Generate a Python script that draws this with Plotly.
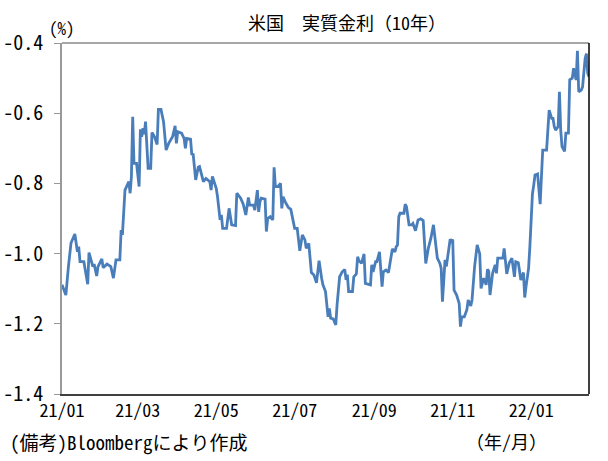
import plotly.graph_objects as go

# US real interest rate (10Y), %
dates = [
    "2021-01-01", "2021-01-04", "2021-01-06", "2021-01-08", "2021-01-11", "2021-01-13", "2021-01-14",
    "2021-01-15", "2021-01-18", "2021-01-21", "2021-01-22", "2021-01-25", "2021-01-26", "2021-01-28",
    "2021-01-29", "2021-02-01", "2021-02-02", "2021-02-05", "2021-02-08", "2021-02-10", "2021-02-12",
    "2021-02-15", "2021-02-16", "2021-02-17", "2021-02-19", "2021-02-21", "2021-02-22", "2021-02-23",
    "2021-02-24", "2021-02-25", "2021-02-26", "2021-02-28", "2021-03-02", "2021-03-03", "2021-03-04",
    "2021-03-05", "2021-03-06", "2021-03-07", "2021-03-09", "2021-03-11", "2021-03-12", "2021-03-14",
    "2021-03-16", "2021-03-17", "2021-03-19", "2021-03-21", "2021-03-23", "2021-03-25", "2021-03-28",
    "2021-03-30", "2021-03-31", "2021-04-01", "2021-04-04", "2021-04-06", "2021-04-07", "2021-04-08",
    "2021-04-11", "2021-04-12", "2021-04-13", "2021-04-15", "2021-04-17",
    "2021-04-18", "2021-04-21", "2021-04-23", "2021-04-26", "2021-04-27", "2021-04-28", "2021-05-01",
    "2021-05-02", "2021-05-04", "2021-05-05", "2021-05-06", "2021-05-09", "2021-05-11", "2021-05-13",
    "2021-05-16", "2021-05-17", "2021-05-20", "2021-05-22", "2021-05-24", "2021-05-26", "2021-05-27",
    "2021-05-30", "2021-05-31", "2021-06-02", "2021-06-03", "2021-06-04", "2021-06-05", "2021-06-08",
    "2021-06-09", "2021-06-10", "2021-06-12", "2021-06-14", "2021-06-15", "2021-06-16", "2021-06-18",
    "2021-06-20", "2021-06-21", "2021-06-22", "2021-06-24", "2021-06-26", "2021-06-28", "2021-07-01",
    "2021-07-03", "2021-07-05", "2021-07-07", "2021-07-09", "2021-07-10", "2021-07-12", "2021-07-14",
    "2021-07-16", "2021-07-18", "2021-07-20", "2021-07-22", "2021-07-23", "2021-07-25", "2021-07-27",
    "2021-07-28", "2021-07-29", "2021-07-31", "2021-08-02", "2021-08-03", "2021-08-05", "2021-08-07",
    "2021-08-09", "2021-08-10", "2021-08-11", "2021-08-12", "2021-08-15", "2021-08-16", "2021-08-18",
    "2021-08-19", "2021-08-20", "2021-08-22", "2021-08-24", "2021-08-25", "2021-08-29", "2021-08-30",
    "2021-08-31", "2021-09-02", "2021-09-03", "2021-09-05",
    "2021-09-07", "2021-09-08", "2021-09-10", "2021-09-12", "2021-09-15", "2021-09-17", "2021-09-18",
    "2021-09-19", "2021-09-20", "2021-09-21", "2021-09-24", "2021-09-25", "2021-09-26", "2021-09-28",
    "2021-09-30", "2021-10-01", "2021-10-03", "2021-10-05", "2021-10-07", "2021-10-09", "2021-10-10",
    "2021-10-11", "2021-10-13", "2021-10-15", "2021-10-17", "2021-10-18", "2021-10-20", "2021-10-22",
    "2021-10-23", "2021-10-24", "2021-10-26", "2021-10-27", "2021-10-30", "2021-10-31", "2021-11-01",
    "2021-11-02", "2021-11-04", "2021-11-06", "2021-11-07", "2021-11-08", "2021-11-10", "2021-11-11",
    "2021-11-12", "2021-11-13", "2021-11-15", "2021-11-16", "2021-11-18", "2021-11-20", "2021-11-22",
    "2021-11-23", "2021-11-25", "2021-11-27", "2021-11-28", "2021-11-29", "2021-11-30", "2021-12-02",
    "2021-12-04", "2021-12-05", "2021-12-06", "2021-12-08", "2021-12-10", "2021-12-11", "2021-12-13",
    "2021-12-15", "2021-12-17", "2021-12-19", "2021-12-20", "2021-12-22", "2021-12-23", "2021-12-24",
    "2021-12-26", "2021-12-27", "2021-12-28", "2021-12-30", "2021-12-31",
    "2022-01-01", "2022-01-02", "2022-01-03", "2022-01-04", "2022-01-06", "2022-01-08", "2022-01-09",
    "2022-01-10", "2022-01-13", "2022-01-14", "2022-01-15", "2022-01-17", "2022-01-18", "2022-01-19",
    "2022-01-20", "2022-01-22", "2022-01-23", "2022-01-24", "2022-01-25", "2022-01-27", "2022-01-28",
    "2022-01-30", "2022-01-31", "2022-02-02", "2022-02-03", "2022-02-05", "2022-02-06", "2022-02-07",
    "2022-02-09", "2022-02-10", "2022-02-12", "2022-02-13", "2022-02-14", "2022-02-15",
]
real_rate = [
    -1.089, -1.118, -1.037, -0.970, -0.944, -0.995, -0.980,
    -1.023, -1.023, -1.087, -0.997, -1.037, -1.030, -1.064,
    -1.037, -1.015, -1.040, -1.030, -1.037, -1.070, -1.018,
    -1.018, -0.933, -0.947, -0.819, -0.805, -0.795, -0.828,
    -0.781, -0.610, -0.743, -0.743, -0.809, -0.646, -0.667,
    -0.643, -0.660, -0.624, -0.757, -0.757, -0.655, -0.667,
    -0.689, -0.589, -0.589, -0.624, -0.705, -0.686, -0.667,
    -0.636, -0.686, -0.653, -0.657, -0.672, -0.700, -0.672,
    -0.674, -0.719, -0.715, -0.790, -0.754,
    -0.752, -0.795, -0.786, -0.795, -0.819, -0.780, -0.814,
    -0.838, -0.904, -0.890, -0.928, -0.928, -0.871, -0.918,
    -0.920, -0.828, -0.842, -0.859, -0.890, -0.840, -0.862,
    -0.862, -0.876, -0.819, -0.881, -0.852, -0.842, -0.845,
    -0.937, -0.900, -0.895, -0.904, -0.754, -0.809, -0.809,
    -0.800, -0.871, -0.838, -0.855, -0.868, -0.874, -0.928,
    -0.928, -0.992, -0.947, -0.961, -0.985, -0.971, -1.054,
    -1.061, -1.083, -1.020, -1.070, -1.089, -1.108, -1.180,
    -1.156, -1.184, -1.186, -1.203, -1.146, -1.066, -1.052,
    -1.045, -1.075, -1.060, -1.108, -1.108, -1.066, -1.058,
    -1.009, -1.020, -1.028, -1.001, -1.085, -1.089, -1.032,
    -1.052, -1.023, -1.023, -0.995,
    -1.094, -1.052, -1.047, -1.054, -0.987, -0.995, -0.980,
    -0.976, -0.895, -0.885, -0.885, -0.859, -0.866, -0.918,
    -0.918, -0.914, -0.935, -0.904, -0.901, -0.906, -0.971,
    -1.028, -0.985, -0.956, -0.918, -0.947, -1.013, -1.028,
    -1.042, -1.137, -1.018, -1.037, -0.959, -0.965, -0.960,
    -1.104, -1.118, -1.142, -1.208, -1.180, -1.180, -1.170,
    -1.160, -1.132, -1.149, -1.132, -1.037, -0.975, -1.001,
    -1.099, -1.070, -1.089, -1.045, -1.050, -1.118, -1.056,
    -1.032, -1.056, -1.013, -1.013, -1.013, -0.985, -1.058,
    -1.026, -1.013, -1.066, -1.023, -1.026, -1.052, -1.075,
    -1.054, -1.125, -1.094, -1.042, -0.980,
    -0.900, -0.830, -0.805, -0.776, -0.773, -0.859, -0.781,
    -0.705, -0.705, -0.648, -0.591, -0.615, -0.615, -0.638,
    -0.648, -0.638, -0.539, -0.648, -0.695, -0.709, -0.657,
    -0.657, -0.505, -0.500, -0.472, -0.505, -0.422, -0.539,
    -0.534, -0.525, -0.444, -0.430, -0.486, -0.496,
]

x_tick_vals = ["2021-01-01", "2021-03-01", "2021-05-01", "2021-07-01", "2021-09-01", "2021-11-01", "2022-01-01"]
x_tick_text = ["21/01", "21/03", "21/05", "21/07", "21/09", "21/11", "22/01"]
y_tick_vals = [-1.4, -1.2, -1.0, -0.8, -0.6, -0.4]
y_tick_text = ["-1.4", "-1.2", "-1.0", "-0.8", "-0.6", "-0.4"]

FONT = "Noto Sans Mono CJK JP, Noto Sans CJK JP, sans-serif"

fig = go.Figure()
fig.add_trace(go.Scatter(
    x=dates, y=real_rate, mode="lines",
    line=dict(color="#4A7EBB", width=2.8),
    showlegend=False, hoverinfo="skip",
))

fig.update_layout(
    width=608, height=461,
    margin=dict(l=62, r=19, t=43, b=67, autoexpand=False),
    paper_bgcolor="white", plot_bgcolor="white",
    font=dict(family=FONT, color="black", size=18),
    xaxis=dict(
        type="date", automargin=False,
        range=["2021-01-01", "2022-02-15"],
        tickvals=x_tick_vals, ticktext=x_tick_text,
        showgrid=False, zeroline=False,
        showline=True, linecolor="#404040", linewidth=1.5,
        ticks="", tickfont=dict(size=18, family=FONT),
    ),
    yaxis=dict(
        automargin=False,
        range=[-1.4, -0.4],
        tickvals=y_tick_vals, ticktext=y_tick_text,
        showgrid=False, zeroline=False,
        showline=True, linecolor="#999999", linewidth=1.5,
        ticks="outside", ticklen=6, tickcolor="#999999", tickwidth=1,
        ticklabelstandoff=7,
        tickfont=dict(size=20, family=FONT),
    ),
    shapes=[
        dict(type="line", xref="paper", yref="paper", x0=0, x1=1, y0=1, y1=1,
             line=dict(color="#888888", width=1.5)),
        dict(type="line", xref="paper", yref="paper", x0=1, x1=1, y0=0, y1=1,
             line=dict(color="#000000", width=1.5)),
    ],
    annotations=[
        dict(text="米国　実質金利（10年）", xref="paper", yref="paper",
             x=0.541, y=1.06, xanchor="center", yanchor="middle",
             showarrow=False, font=dict(size=18, family=FONT)),
        dict(text="(%)", xref="paper", yref="paper",
             x=-0.028, y=1.045, xanchor="left", yanchor="middle",
             showarrow=False, font=dict(size=17, family=FONT)),
        dict(text="(備考)Bloombergにより作成", xref="paper", yref="paper",
             x=-0.1025, y=-0.134, xanchor="left", yanchor="middle",
             showarrow=False, font=dict(size=19, family=FONT)),
        dict(text="（年/月）", xref="paper", yref="paper",
             x=0.762, y=-0.134, xanchor="left", yanchor="middle",
             showarrow=False, font=dict(size=18, family=FONT)),
    ],
)

fig.write_html("out.html")
